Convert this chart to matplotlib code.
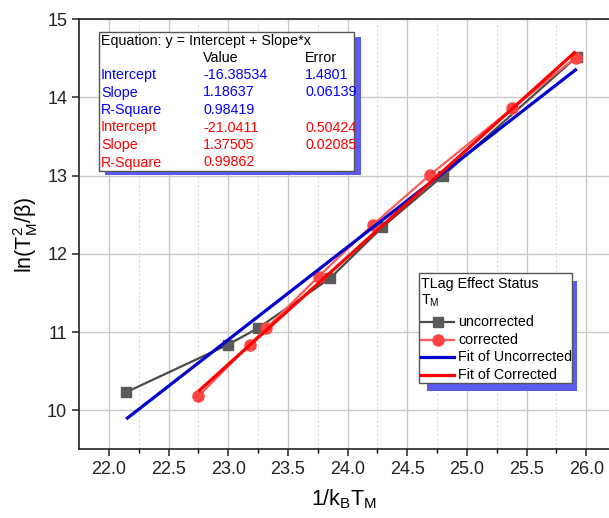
import matplotlib
matplotlib.use("Agg")
import matplotlib.pyplot as plt
import numpy as np
from matplotlib.patches import Rectangle
from matplotlib.lines import Line2D
from matplotlib.transforms import Affine2D

# =========================
# Data
# =========================

x_uncorr = [22.145, 23.00, 23.25, 23.855, 24.29, 24.80, 25.92]
y_uncorr = [10.23, 10.84, 11.05, 11.69, 12.34, 13.00, 14.52]

x_corr = [22.75, 23.18, 23.32, 23.757, 24.21, 24.69, 25.38, 25.91]
y_corr = [10.18, 10.84, 11.05, 11.71, 12.37, 13.01, 13.86, 14.51]

# linear fit results (y = Intercept + Slope*x)
fit_uncorr = {"Intercept": (-16.38534, 1.4801), "Slope": (1.18637, 0.06139), "R-Square": 0.98419}
fit_corr = {"Intercept": (-21.0411, 0.50424), "Slope": (1.37505, 0.02085), "R-Square": 0.99862}

x_ticks = [22.0, 22.5, 23.0, 23.5, 24.0, 24.5, 25.0, 25.5, 26.0]
y_ticks = [10, 11, 12, 13, 14, 15]

# =========================
# Style
# =========================

plt.rcParams['font.family'] = ['Liberation Sans', 'DejaVu Sans']
plt.rcParams['mathtext.fontset'] = 'custom'
plt.rcParams['mathtext.rm'] = 'Liberation Sans'
plt.rcParams['mathtext.it'] = 'Liberation Sans:italic'

W, H = 609, 518
fig = plt.figure(figsize=(W / 100, H / 100), dpi=100)
ax = fig.add_axes([79 / W, (H - 449.3) / H, 530 / W, 430 / H])

# pixel transform (origin top-left of the figure)
px = Affine2D().scale(1 / W, -1 / H).translate(0, 1) + fig.transFigure

# =========================
# Plot
# =========================

ax.plot(x_uncorr, y_uncorr, color='#4a4a4a', lw=1.6, marker='s', ms=6.5,
        mfc='#5a5a5a', mec='#5a5a5a', zorder=3)
ax.plot(x_corr, y_corr, color='#ff5a5a', lw=1.6, marker='o', ms=8,
        mfc='#ff4444', mec='#ff4444', zorder=4)

xf_u = np.array([min(x_uncorr), max(x_uncorr)])
xf_c = np.array([min(x_corr), max(x_corr)])
ax.plot(xf_u, fit_uncorr["Intercept"][0] + fit_uncorr["Slope"][0] * xf_u,
        color='#0000cc', lw=2.3, zorder=5, solid_capstyle='butt')
ax.plot(xf_c, fit_corr["Intercept"][0] + fit_corr["Slope"][0] * xf_c,
        color='#ff0000', lw=2.3, zorder=6, solid_capstyle='butt')

ax.set_xlim(21.75, 26.19)
ax.set_ylim(9.5, 15)
ax.set_xticks(x_ticks)
ax.set_xticklabels(['%.1f' % t for t in x_ticks])
ax.set_yticks(y_ticks)
ax.set_xticks(np.arange(22.25, 26.2, 0.5), minor=True)
ax.set_yticks(np.arange(9.5, 15.0, 0.5)[1::2], minor=True)

ax.grid(which='major', color='#c8c8c8', lw=1.0, zorder=0)
ax.grid(which='minor', color='#dcdcdc', lw=0.8, ls=(0, (2, 2)), zorder=0)
ax.set_axisbelow(True)

ax.tick_params(which='major', direction='out', length=5, width=1.1, labelsize=13,
               colors='#222222')
ax.tick_params(which='minor', direction='out', length=3, width=1.0)
ax.spines['right'].set_visible(False)
for s in ['left', 'bottom', 'top']:
    ax.spines[s].set_linewidth(1.2)
    ax.spines[s].set_color('#222222')

ax.set_xlabel(r'1/k$\mathregular{_B}$T$\mathregular{_M}$', fontsize=15.5, labelpad=7)
ax.set_ylabel(r'ln(T$\mathregular{_M^2}$/β)', fontsize=15.5, labelpad=5)

# =========================
# Equation box
# =========================

shadow_col = '#5b5bef'
fig.patches.append(Rectangle((105, 37), 256, 138, transform=px, fc=shadow_col,
                             ec='none', zorder=8))
fig.patches.append(Rectangle((99, 32), 255, 139, transform=px, fc='white',
                             ec='#555555', lw=1, zorder=9))

fs = 10.3
fig.text(101, 41, 'Equation: y = Intercept + Slope*x', transform=px, fontsize=fs,
         va='center', zorder=10)
fig.text(203, 57.5, 'Value', transform=px, fontsize=fs, va='center', zorder=10)
fig.text(305, 57.5, 'Error', transform=px, fontsize=fs, va='center', zorder=10)

rows = [("Intercept", '%.5f' % fit_uncorr["Intercept"][0], '%g' % fit_uncorr["Intercept"][1], 'blue'),
        ("Slope", '%.5f' % fit_uncorr["Slope"][0], '%g' % fit_uncorr["Slope"][1], 'blue'),
        ("R-Square", '%.5f' % fit_uncorr["R-Square"], '', 'blue'),
        ("Intercept", '%g' % fit_corr["Intercept"][0], '%g' % fit_corr["Intercept"][1], 'red'),
        ("Slope", '%.5f' % fit_corr["Slope"][0], '%.5f' % fit_corr["Slope"][1], 'red'),
        ("R-Square", '%.5f' % fit_corr["R-Square"], '', 'red')]
for i, (name, val, err, col) in enumerate(rows):
    yy = 75 + i * 17.5
    c = '#0000ff' if col == 'blue' else '#ff0000'
    fig.text(101, yy, name, transform=px, fontsize=fs, color=c, va='center', zorder=10)
    fig.text(203, yy, val, transform=px, fontsize=fs, color=c, va='center', zorder=10)
    fig.text(305, yy, err, transform=px, fontsize=fs, color=c, va='center', zorder=10)

# =========================
# Legend box
# =========================

fig.patches.append(Rectangle((427, 281), 150, 110, transform=px, fc=shadow_col,
                             ec='none', zorder=8))
fig.patches.append(Rectangle((419, 273), 153, 110, transform=px, fc='white',
                             ec='#555555', lw=1, zorder=9))
fig.text(421, 284, 'TLag Effect Status', transform=px, fontsize=fs, va='center', zorder=10)
fig.text(421, 301, r'T$\mathregular{_M}$', transform=px, fontsize=fs, va='center', zorder=10)

leg_items = [('uncorrected', '#4a4a4a', 's', '#5a5a5a'),
             ('corrected', '#ff5a5a', 'o', '#ff4444'),
             ('Fit of Uncorrected', '#0000cc', None, None),
             ('Fit of Corrected', '#ff0000', None, None)]
for i, (lab, col, mk, mcol) in enumerate(leg_items):
    yy = 322 + i * 17.7
    lw = 1.6 if mk else 2.3
    fig.lines.append(Line2D([421, 454], [yy, yy], transform=px, color=col, lw=lw,
                            zorder=10))
    if mk:
        fig.lines.append(Line2D([437.5], [yy], transform=px, marker=mk,
                                ms=6.5 if mk == 's' else 8, mfc=mcol, mec=mcol,
                                zorder=11))
    fig.text(458, yy, lab, transform=px, fontsize=fs, va='center', zorder=10)

fig.savefig('out.png', dpi=100)
